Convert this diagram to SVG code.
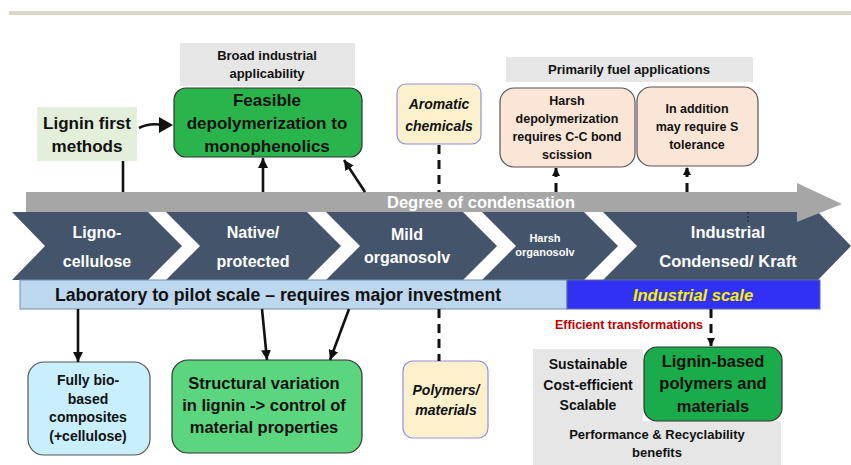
<svg xmlns="http://www.w3.org/2000/svg" width="851" height="465" viewBox="0 0 851 465">
<defs>
<style>
text{font-family:"Liberation Sans",Arial,sans-serif;font-weight:bold;text-anchor:middle;fill:#111}
.w{fill:#fff}
.it{font-style:italic}
.ln{stroke:#111;stroke-width:2.6;fill:none}
.dl{stroke:#111;stroke-width:3;fill:none;stroke-dasharray:9 6}
.chev{fill:#44546a}
.lbl{fill:#e6e6e6}
</style>
<marker id="ah" markerUnits="userSpaceOnUse" markerWidth="12" markerHeight="12" refX="10" refY="5" orient="auto"><path d="M0,0 L10,5 L0,10 Z" fill="#111"/></marker>
<marker id="ahS" markerUnits="userSpaceOnUse" markerWidth="10" markerHeight="10" refX="8" refY="4" orient="auto"><path d="M0,0 L8,4 L0,8 Z" fill="#111"/></marker>
</defs>
<rect width="851" height="465" fill="#fff"/>
<rect x="9" y="11" width="842" height="4" fill="#ddd6c6"/>

<g id="stages">
<polygon class="chev" points="12,212 148,212 182,246 148,280 12,280 45,246"/>
<polygon class="chev" points="166,212 307,212 341,246 307,280 166,280 200,246"/>
<polygon class="chev" points="326,212 463,212 497,246 463,280 326,280 360,246"/>
<polygon class="chev" points="482,212 584,212 618,246 584,280 482,280 516,246"/>
<polygon class="chev" points="603,212 818,212 851,246 818,280 603,280 637,246"/>
<text class="w" x="97" y="238" font-size="16">Ligno-</text>
<text class="w" x="97" y="267" font-size="16">cellulose</text>
<text class="w" x="253" y="238" font-size="16">Native/</text>
<text class="w" x="253" y="267" font-size="16">protected</text>
<text class="w" x="407" y="240" font-size="16">Mild</text>
<text class="w" x="407" y="263" font-size="16">organosolv</text>
<text class="w" x="545" y="242" font-size="11">Harsh</text>
<text class="w" x="545" y="256" font-size="11">organosolv</text>
<text class="w" x="728" y="238" font-size="16.5">Industrial</text>
<text class="w" x="728" y="267" font-size="16.5">Condensed/ Kraft</text>
</g>

<g id="condensation">
<polygon points="26,192 797,192 797,183 842,204 797,222 797,212 26,212" fill="#a6a6a6"/>
<text class="w" x="481" y="208" font-size="16.5">Degree of condensation</text>
<line x1="748" y1="212" x2="748" y2="223" stroke="#222" stroke-width="1" stroke-dasharray="2 2"/>
</g>

<g id="lab-scale">
<rect x="20" y="280" width="547" height="29" fill="#bdd7ee" stroke="#6f8fb0" stroke-width="1"/>
<text x="278" y="301" font-size="17.7">Laboratory to pilot scale – requires major investment</text>
</g>
<g id="industrial-scale">
<rect x="567" y="280" width="253" height="29" fill="#3131f5" stroke="#5a6ea8" stroke-width="1"/>
<text class="it" x="693" y="301" font-size="16.5" style="fill:#f5f000">Industrial scale</text>
</g>

<g id="broad">
<rect class="lbl" x="180" y="43" width="175" height="43"/>
<text x="267" y="60" font-size="13">Broad industrial</text>
<text x="267" y="78" font-size="13">applicability</text>
</g>
<g id="feasible">
<rect x="174" y="88" width="188" height="69" rx="12" fill="#2ab54c" stroke="#333" stroke-width="1.2"/>
<text x="267" y="106" font-size="17">Feasible</text>
<text x="267" y="129" font-size="17">depolymerization to</text>
<text x="267" y="152" font-size="17">monophenolics</text>
</g>
<g id="lignin-first">
<rect x="37" y="107" width="100" height="54" fill="#e2efda"/>
<text x="87" y="129" font-size="17">Lignin first</text>
<text x="87" y="152" font-size="17">methods</text>
</g>
<g id="aromatic">
<rect x="397" y="84" width="84" height="60" rx="9" fill="#fdf0cc" stroke="#8f8fe6" stroke-width="1.2"/>
<text class="it" x="439" y="109" font-size="14">Aromatic</text>
<text class="it" x="439" y="131" font-size="14">chemicals</text>
</g>
<g id="fuel">
<rect class="lbl" x="506" y="57" width="247" height="25"/>
<text x="629" y="74" font-size="13">Primarily fuel applications</text>
</g>
<g id="harsh">
<rect x="500" y="88" width="135" height="79" rx="14" fill="#fbe5d6" stroke="#555" stroke-width="1.2"/>
<text x="567" y="105" font-size="12.5">Harsh</text>
<text x="567" y="123" font-size="12.5">depolymerization</text>
<text x="567" y="141" font-size="12.5">requires C-C bond</text>
<text x="567" y="159" font-size="12.5">scission</text>
</g>
<g id="addition">
<rect x="637" y="87" width="121" height="79" rx="14" fill="#fbe5d6" stroke="#555" stroke-width="1.2"/>
<text x="697" y="113" font-size="12.5">In addition</text>
<text x="697" y="131" font-size="12.5">may require S</text>
<text x="697" y="149" font-size="12.5">tolerance</text>
</g>

<g id="biobased">
<rect x="28" y="362" width="122" height="93" rx="16" fill="#c9effc" stroke="#555" stroke-width="1.2"/>
<text x="88" y="385" font-size="14">Fully bio-</text>
<text x="88" y="404" font-size="14">based</text>
<text x="88" y="422" font-size="14">composites</text>
<text x="88" y="441" font-size="14">(+cellulose)</text>
</g>
<g id="structural">
<rect x="172" y="360" width="190" height="93" rx="16" fill="#5bd67f" stroke="#333" stroke-width="1.2"/>
<text x="264" y="389" font-size="16.5">Structural variation</text>
<text x="264" y="411" font-size="16.5">in lignin -&gt; control of</text>
<text x="264" y="433" font-size="16.5">material properties</text>
</g>
<g id="polymers">
<rect x="403" y="361" width="85" height="77" rx="10" fill="#fdf0cc" stroke="#8f8fe6" stroke-width="1.2"/>
<text class="it" x="446" y="395" font-size="14">Polymers/</text>
<text class="it" x="446" y="415" font-size="14">materials</text>
</g>
<g id="efficient">
<text x="629" y="329" font-size="12.5" style="fill:#c00000">Efficient transformations</text>
</g>
<g id="sustainable">
<rect class="lbl" x="533" y="349" width="110" height="72"/>
<text x="588" y="369" font-size="14">Sustainable</text>
<text x="588" y="390" font-size="14">Cost-efficient</text>
<text x="588" y="410" font-size="14">Scalable</text>
</g>
<g id="performance">
<rect class="lbl" x="533" y="421" width="248" height="44"/>
<text x="657" y="439" font-size="13">Performance &amp; Recyclability</text>
<text x="657" y="457" font-size="13">benefits</text>
</g>
<g id="lignin-based">
<rect x="644" y="347" width="138" height="74" rx="13" fill="#1aab4a" stroke="#333" stroke-width="1.2"/>
<text x="713" y="367" font-size="16.5">Lignin-based</text>
<text x="713" y="389" font-size="16.5">polymers and</text>
<text x="713" y="412" font-size="16.5">materials</text>
</g>

<g id="connectors">
<path class="ln" d="M139,128 C148,123 155,124 160,124.5" stroke-width="3"/>
<path d="M159,117 L173,125 L159,133 Z" fill="#111"/>
<line class="ln" x1="123" y1="161" x2="123" y2="192"/>
<line class="ln" x1="263" y1="192" x2="263" y2="158" marker-end="url(#ah)"/>
<line class="ln" x1="365" y1="192" x2="344" y2="160" marker-end="url(#ah)"/>
<line class="dl" x1="439" y1="145" x2="439" y2="192"/>
<line class="dl" x1="556" y1="192" x2="556" y2="168" stroke-dasharray="6 4" marker-end="url(#ahS)"/>
<line class="dl" x1="687" y1="192" x2="687" y2="167" stroke-dasharray="6 4" marker-end="url(#ahS)"/>
<line class="ln" x1="78" y1="309" x2="78" y2="362" marker-end="url(#ah)"/>
<line class="ln" x1="262" y1="309" x2="267" y2="360" marker-end="url(#ah)"/>
<line class="ln" x1="349" y1="309" x2="330" y2="360" marker-end="url(#ah)"/>
<line class="dl" x1="439" y1="309" x2="439" y2="361"/>
<line class="dl" x1="711" y1="309" x2="711" y2="346" stroke-dasharray="7 4" marker-end="url(#ahS)"/>
</g>
</svg>
